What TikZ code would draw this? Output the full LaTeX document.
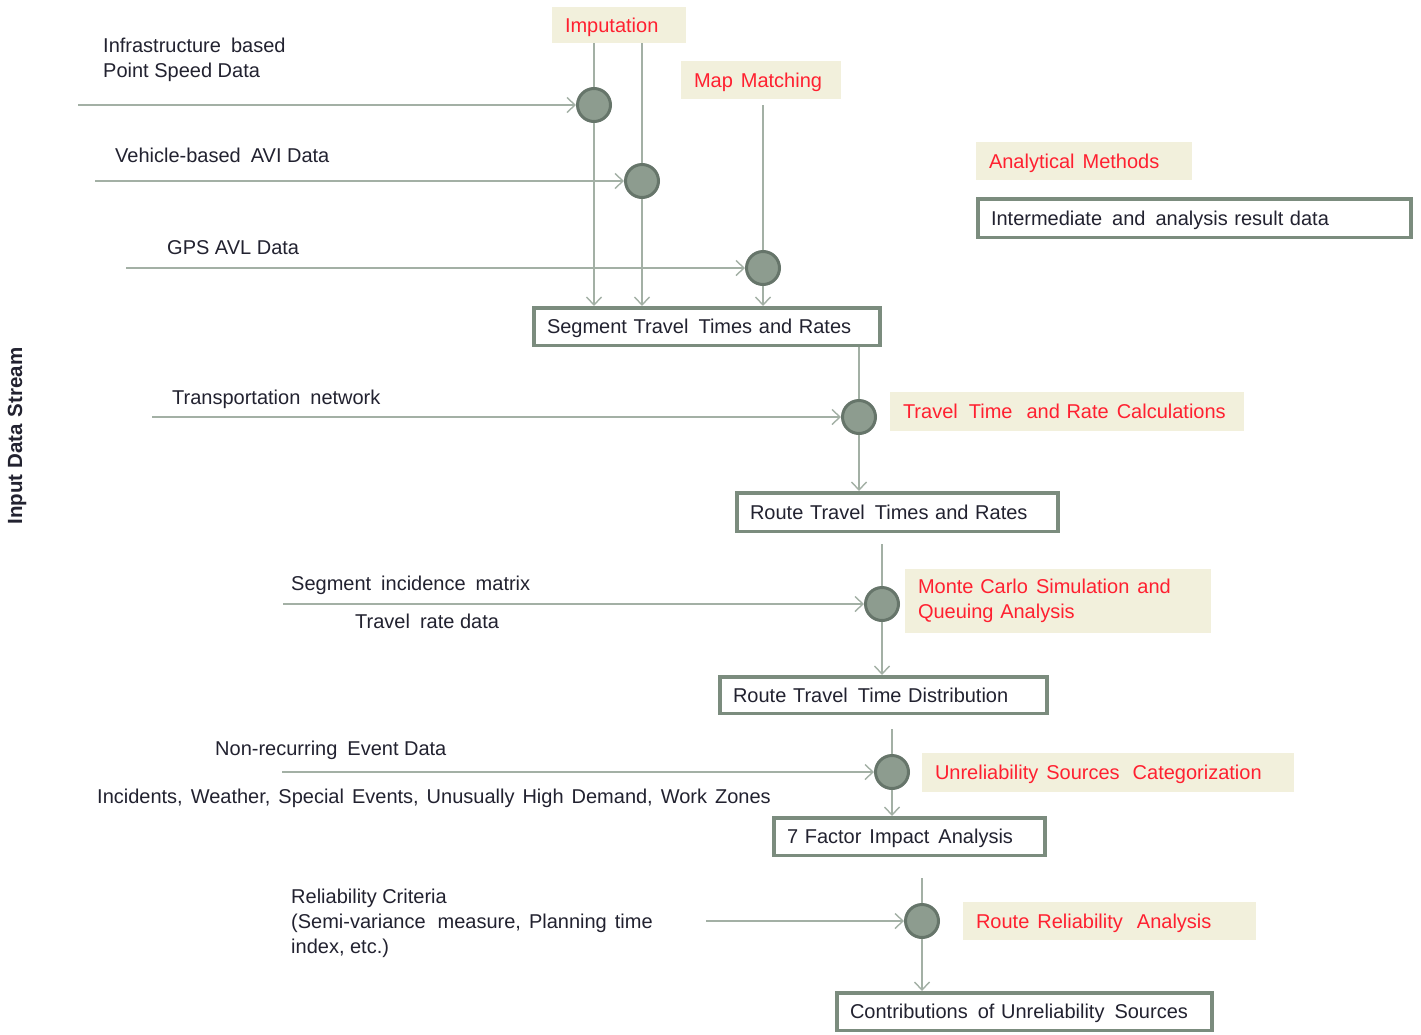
\documentclass[tikz,border=0pt]{standalone}
\usepackage{fontspec}
\setmainfont{Liberation Sans}
\usetikzlibrary{arrows.meta}
\definecolor{boxc}{HTML}{7B8C7E}
\definecolor{linec}{HTML}{A3B0A5}
\definecolor{circf}{HTML}{8D9C8F}
\definecolor{circd}{HTML}{66756A}
\definecolor{cream}{HTML}{F2F0DC}
\definecolor{redt}{HTML}{FF2030}
\definecolor{txt}{HTML}{222230}
\newcommand\dsp{\hspace{10pt}}
\newcommand\isp{\hspace{8pt}}
\begin{document}
\begin{tikzpicture}[x=1pt,y=-1pt, font=\fontsize{20}{25}\selectfont,
 dbox/.style={draw=boxc, line width=3.5pt, fill=white, inner xsep=13pt, inner ysep=0pt, align=left, text=txt, text height=17pt, text depth=3pt},
 lblbase/.style={fill=cream, inner xsep=13pt, inner ysep=0pt, align=left, text=redt},
 lbl/.style={lblbase, text height=17pt, text depth=3pt},
 junc/.style={circle, draw=circd, line width=3pt, fill=circf, minimum size=33pt, inner sep=0pt},
 flow/.style={draw=linec, line width=1.6pt, -{Straight Barb[length=8pt,width=15pt,line width=1.4pt]}},
 plain/.style={draw=linec, line width=1.6pt},
 itxt/.style={anchor=base west, inner sep=0pt, text=txt}]
\fill[white] (0,0) rectangle (1421,1034);
\useasboundingbox (0,0) rectangle (1421,1034);

% analytical method labels
\node[lbl, text width=108pt, minimum height=36pt] (imp) at (619,25) {Imputation};
\node[lbl, text width=134pt, minimum height=38pt] (mm) at (761,80) {Map\hspace{8pt}Matching};
\node[lbl, text width=190pt, minimum height=38pt] (am) at (1084,161) {Analytical\hspace{8pt}Methods};
\node[lbl, text width=328pt, minimum height=39pt] (ttr) at (1067,411.5) {Travel\hspace{11pt}Time\hspace{14pt}and Rate\isp Calculations};
\node[lblbase, text width=280pt, minimum height=64pt] (mc) at (1058,601) {Monte Carlo\hspace{8pt}Simulation\isp and\\Queuing Analysis};
\node[lbl, text width=346pt, minimum height=39pt] (usc) at (1108,772.5) {Unreliability\isp Sources\hspace{13pt}Categorization};
\node[lbl, text width=267pt, minimum height=38pt] (rra) at (1109.5,921) {Route\isp Reliability\hspace{14pt}Analysis};

% data boxes
\node[dbox, text width=407pt, minimum height=38.5pt] (inter) at (1194.5,218) {Intermediate\dsp and\dsp analysis result data};
\node[dbox, text width=320pt, minimum height=37.5pt] (seg) at (707,326.5) {Segment Travel\dsp Times and Rates};
\node[dbox, text width=295pt, minimum height=38.5pt] (route) at (897.5,512) {Route Travel\dsp Times and Rates};
\node[dbox, text width=301pt, minimum height=36.5pt] (dist) at (883.5,695) {Route Travel\dsp Time Distribution};
\node[dbox, text width=245pt, minimum height=37.5pt] (fact) at (909.5,836.5) {7 Factor\hspace{8pt}Impact\hspace{9pt}Analysis};
\node[dbox, text width=349pt, minimum height=37.5pt] (contrib) at (1024.5,1011.5) {Contributions\dsp of Unreliability\dsp Sources};

% junctions
\node[junc] (c1) at (594,105) {};
\node[junc] (c2) at (642,181) {};
\node[junc] (c3) at (763,268) {};
\node[junc] (c4) at (859,417) {};
\node[junc] (c5) at (882,604) {};
\node[junc] (c6) at (892,772) {};
\node[junc] (c7) at (922,921) {};

% free ends
\coordinate (in1) at (78,105);
\coordinate (in2) at (95,181);
\coordinate (in3) at (126,268);
\coordinate (in4) at (152,417);
\coordinate (in5) at (283,604);
\coordinate (in6) at (282,772);
\coordinate (in7) at (706,921);
\coordinate (mmb) at (763,105);
\coordinate (t5) at (882,544);
\coordinate (t6) at (892,729);
\coordinate (t7) at (922,878);

% input texts
\node[itxt] (s1a) at (103,52) {Infrastructure\dsp based};
\node[itxt] (s1b) at (103,77) {Point Speed Data};
\node[itxt] (s2) at (115,162) {Vehicle-based\dsp AVI Data};
\node[itxt] (s3) at (167,254) {GPS AVL Data};
\node[itxt] (s4) at (172,404) {Transportation\dsp network};
\node[itxt] (s5a) at (291,590) {Segment\dsp incidence\dsp matrix};
\node[itxt] (s5b) at (355,628) {Travel\dsp rate data};
\node[itxt] (s6a) at (215,755) {Non-recurring\dsp Event Data};
\node[itxt] (s6b) at (97,803) {Incidents,\isp Weather,\isp Special\isp Events,\isp Unusually\isp High\isp Demand,\isp Work\isp Zones};
\node[itxt] (s7a) at (291,903) {Reliability Criteria};
\node[itxt] (s7b) at (291,928) {(Semi-variance\hspace{12pt}measure,\isp Planning\isp time};
\node[itxt] (s7c) at (291,953) {index, etc.)};
\node[rotate=90, font=\fontsize{20.5}{25}\selectfont\bfseries, text=txt, inner sep=0pt] (title) at (17,436) {Input Data\hspace{7pt}Stream};

% connectors
\draw[flow] (in1) -- (c1);
\draw[flow] (in2) -- (c2);
\draw[flow] (in3) -- (c3);
\draw[flow] (in4) -- (c4);
\draw[flow] (in5) -- (c5);
\draw[flow] (in6) -- (c6);
\draw[flow] (in7) -- (c7);

\draw[plain] (imp.south -| c1) -- (c1);
\draw[flow] (c1) -- (seg.north -| c1);
\draw[plain] (imp.south -| c2) -- (c2);
\draw[flow] (c2) -- (seg.north -| c2);
\draw[plain] (mmb) -- (c3);
\draw[flow] (c3) -- (seg.north -| c3);
\draw[plain] (seg.south -| c4) -- (c4);
\draw[flow] (c4) -- (route.north -| c4);
\draw[plain] (t5) -- (c5);
\draw[flow] (c5) -- (dist.north -| c5);
\draw[plain] (t6) -- (c6);
\draw[flow] (c6) -- (fact.north -| c6);
\draw[plain] (t7) -- (c7);
\draw[flow] (c7) -- (contrib.north -| c7);
\end{tikzpicture}
\end{document}
